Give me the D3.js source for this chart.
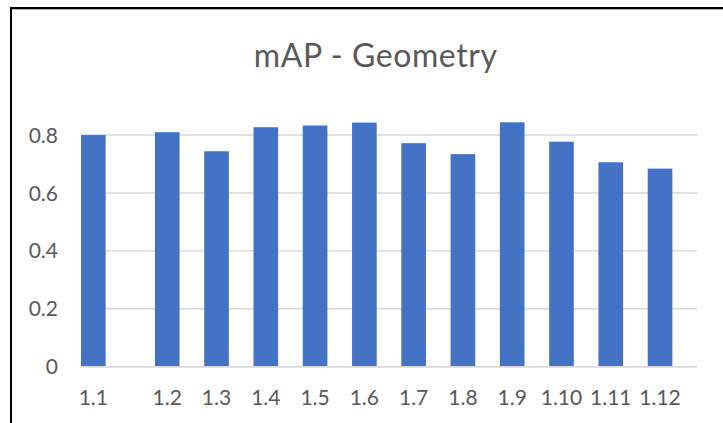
<!DOCTYPE html>
<html>
<head>
<meta charset="utf-8">
<script src="https://cdn.jsdelivr.net/npm/d3@7"></script>
<style>
  html, body { margin: 0; padding: 0; background: #fff; }
  svg { display: block; font-family: Lato, "Open Sans", sans-serif; }
</style>
</head>
<body>
<svg id="chart" width="723" height="423"></svg>
<script>
// Category labels along the x axis
const categories = ["1.1", "1.2", "1.3", "1.4", "1.5", "1.6", "1.7", "1.8", "1.9", "1.10", "1.11", "1.12"];
// mAP score per category
const mapValues = [0.800, 0.810, 0.744, 0.827, 0.833, 0.843, 0.772, 0.734, 0.844, 0.777, 0.706, 0.684];
// Y axis tick values
const yTicks = [0, 0.2, 0.4, 0.6, 0.8];
const chartTitle = "mAP - Geometry";

const svg = d3.select("#chart");
const W = 723, H = 423;

// Frame: heavy left and top rules
svg.append("line").attr("x1", 10).attr("x2", W).attr("y1", 8).attr("y2", 8)
  .attr("stroke", "#000").attr("stroke-width", 2);
svg.append("line").attr("x1", 10).attr("x2", W).attr("y1", 9.6).attr("y2", 9.6)
  .attr("stroke", "#b0b0b0").attr("stroke-width", 1);
svg.append("line").attr("x1", 11).attr("x2", 11).attr("y1", 7).attr("y2", H)
  .attr("stroke", "#000").attr("stroke-width", 2);

// Scales
const y = d3.scaleLinear().domain([0, 0.9]).range([366.7, 106.1]);
// The first category sits half a slot further left than the regular spacing
const slot = (i) => (i === 0 ? -0.5 : i);
const x = d3.scaleLinear().domain([-0.75, 11.75]).range([81, 697]);
const barW = (x(1) - x(0)) * 0.5;

// Gridlines
svg.append("g").selectAll("line").data(yTicks).join("line")
  .attr("x1", x(-0.75)).attr("x2", x(11.75))
  .attr("y1", d => y(d)).attr("y2", d => y(d))
  .attr("stroke", "#d9d9d9").attr("stroke-width", 1.4);

// Y tick labels
svg.append("g").selectAll("text").data(yTicks).join("text")
  .attr("x", 58).attr("y", d => y(d))
  .attr("dy", "0.36em")
  .attr("text-anchor", "end")
  .attr("fill", "#595959")
  .style("font-size", "21px")
  .text(d => d3.format("~g")(d));

// Bars
svg.append("g").selectAll("rect").data(mapValues).join("rect")
  .attr("x", (d, i) => x(slot(i)) - barW / 2)
  .attr("width", barW)
  .attr("y", d => y(d))
  .attr("height", d => y(0) - y(d))
  .attr("fill", "#4472C4");

// Baseline axis
svg.append("line").attr("x1", x(-0.75)).attr("x2", x(11.75))
  .attr("y1", y(0)).attr("y2", y(0))
  .attr("stroke", "#d9d9d9").attr("stroke-width", 1.4);

// X category labels
svg.append("g").selectAll("text").data(categories).join("text")
  .attr("x", (d, i) => x(slot(i)))
  .attr("y", 405)
  .attr("text-anchor", "middle")
  .attr("fill", "#595959")
  .style("font-size", "21px")
  .text(d => d);

// Title
svg.append("text")
  .attr("x", 375.7).attr("y", 66.5)
  .attr("text-anchor", "middle")
  .attr("fill", "#595959")
  .style("font-size", "32px")
  .style("letter-spacing", "0.6px")
  .text(chartTitle);
</script>
</body>
</html>
